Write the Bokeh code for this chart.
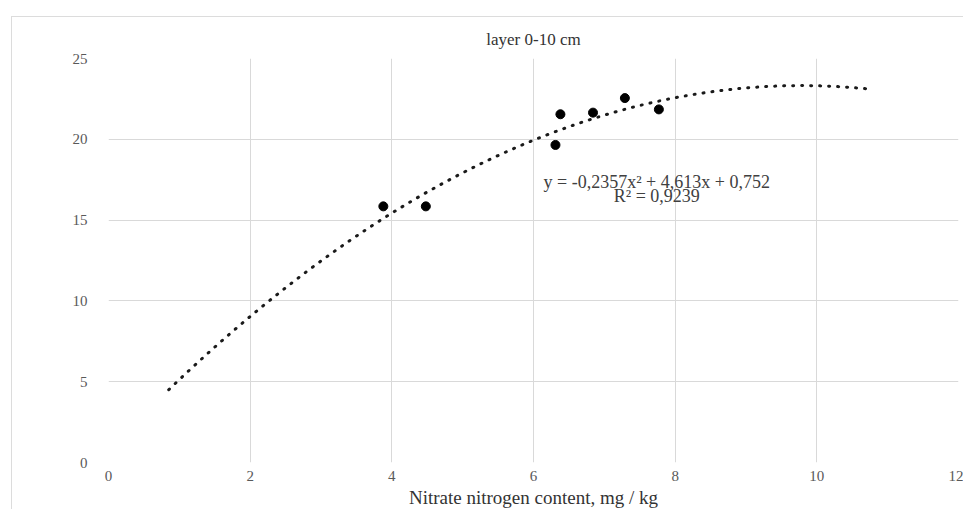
import numpy as np
from bokeh.plotting import figure
from bokeh.models import Range1d, FixedTicker, Title
from bokeh.core.properties import value
from bokeh.embed import file_html
from bokeh.resources import INLINE

# Data
nitrate_x = [3.88, 4.48, 6.31, 6.38, 6.84, 7.29, 7.77]
yield_y = [15.85, 15.85, 19.65, 21.55, 21.65, 22.55, 21.85]

# Polynomial trend line (coefficients shown on the chart)
coef_a = -0.2357
coef_b = 4.613
coef_c = 0.752
trend_start = 0.85
trend_end = 10.8

x_ticks = [0, 2, 4, 6, 8, 10, 12]
y_ticks = [0, 5, 10, 15, 20, 25]

title_text = "layer 0-10 cm"
eq_text = ["y = -0,2357x² + 4,613x + 0,752", "R² = 0,9239"]
eq_x = [7.74, 7.74]
eq_y = [17.35, 16.48]

FONT = "Liberation Serif"

p = figure(width=952, height=493, output_backend="svg", toolbar_location=None,
           x_range=Range1d(0, 12), y_range=Range1d(0, 25),
           min_border_left=96, min_border_right=6, min_border_top=0, min_border_bottom=0)
p.margin = (16, 0, 0, 11)
p.styles = {"border-top": "1px solid #dcdcdc", "border-left": "1px solid #dcdcdc",
            "box-sizing": "border-box"}
p.outline_line_color = None
p.background_fill_color = "white"
p.border_fill_color = "white"

# invisible spacer above the title (outermost)
p.add_layout(Title(text=".", text_font_size="6px", text_alpha=0, standoff=4), "above")
t = Title(text=title_text, align="center", offset=-2, vertical_align="bottom",
          text_font=FONT, text_font_size="17px", text_font_style="normal",
          text_color="#333333", standoff=20)
p.add_layout(t, "above")

for ax in (p.xaxis, p.yaxis):
    ax.axis_line_color = None
    ax.major_tick_line_color = None
    ax.minor_tick_line_color = None
    ax.major_label_text_font = FONT
    ax.major_label_text_font_size = "15px"
    ax.major_label_text_color = "#595959"

p.xaxis.ticker = FixedTicker(ticks=x_ticks)
p.yaxis.ticker = FixedTicker(ticks=y_ticks)
p.xaxis.major_label_standoff = 2
p.yaxis.major_label_standoff = 15
p.xaxis.axis_label = "Nitrate nitrogen content, mg / kg"
p.xaxis.axis_label_text_font = FONT
p.xaxis.axis_label_text_font_size = "19px"
p.xaxis.axis_label_text_font_style = "normal"
p.xaxis.axis_label_text_color = "#333333"
p.xaxis.axis_label_standoff = 3

p.xgrid.grid_line_color = "#d9d9d9"
p.ygrid.grid_line_color = "#d9d9d9"
p.xgrid.ticker = FixedTicker(ticks=x_ticks)
p.ygrid.ticker = FixedTicker(ticks=y_ticks)

xs = np.linspace(trend_start, trend_end, 200)
ys = coef_a * xs**2 + coef_b * xs + coef_c
p.line(xs, ys, line_color="#1a1a1a", line_width=3, line_dash="1 8", line_cap="round")

p.scatter(nitrate_x, yield_y, size=9, color="black")

p.text(x=eq_x, y=eq_y, text=eq_text, text_font=value(FONT),
       text_font_size="18px", text_color="#404040", text_align="center",
       text_baseline="middle")

open("out.html", "w").write(file_html(p, INLINE))
